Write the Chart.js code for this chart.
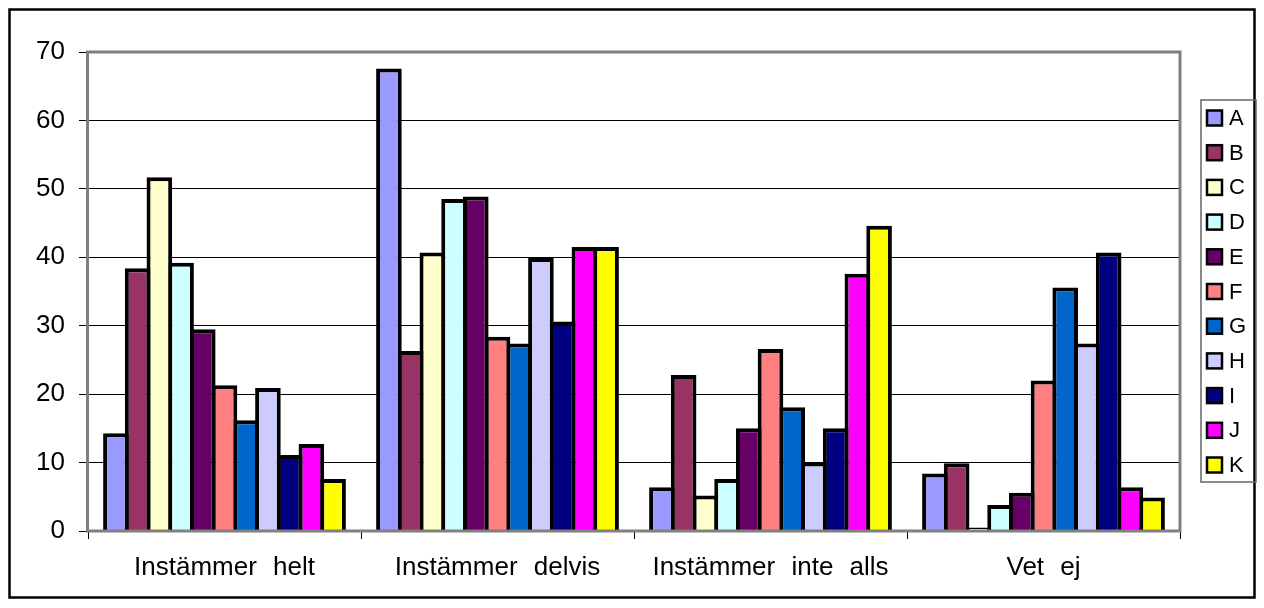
<!DOCTYPE html>
<html>
<head>
<meta charset="utf-8">
<script src="https://cdn.jsdelivr.net/npm/chart.js@4"></script>
<style>
  html, body { margin: 0; padding: 0; background: #fff; }
  #wrap { width: 1264px; height: 608px; }
</style>
</head>
<body>
<div id="wrap"><canvas id="c" width="1264" height="608"></canvas></div>
<script>
const categories = ['Instämmer helt', 'Instämmer delvis', 'Instämmer inte alls', 'Vet ej'];
const seriesLabels = ['A', 'B', 'C', 'D', 'E', 'F', 'G', 'H', 'I', 'J', 'K'];
const seriesColors = ['#9999FF', '#993366', '#FFFFCC', '#CCFFFF', '#660066', '#FF8080', '#0066CC', '#CCCCFF', '#000080', '#FF00FF', '#FFFF00'];
const yTicks = [0, 10, 20, 30, 40, 50, 60, 70];

const valuesA = [14.3, 67.6, 6.4, 8.4];
const valuesB = [38.4, 26.3, 22.8, 9.9];
const valuesC = [51.7, 40.7, 5.2, 0.5];
const valuesD = [39.2, 48.5, 7.6, 3.8];
const valuesE = [29.5, 48.9, 15.0, 5.6];
const valuesF = [21.3, 28.4, 26.6, 22.0];
const valuesG = [16.2, 27.4, 18.1, 35.6];
const valuesH = [20.9, 39.9, 10.0, 27.4];
const valuesI = [11.1, 30.6, 15.0, 40.7];
const valuesJ = [12.7, 41.5, 37.6, 6.4];
const valuesK = [7.6, 41.5, 44.6, 4.9];
const seriesValues = [valuesA, valuesB, valuesC, valuesD, valuesE, valuesF, valuesG, valuesH, valuesI, valuesJ, valuesK];

const FONT = "'Liberation Sans', Arial, sans-serif";

const datasets = seriesLabels.map((lab, i) => ({
  label: lab,
  data: seriesValues[i],
  backgroundColor: seriesColors[i],
  borderColor: '#000',
  borderWidth: 4,
  borderSkipped: 'start',
  categoryPercentage: 0.875,
  barPercentage: 1.18
}));

const framePlugin = {
  id: 'frame',
  beforeDraw(chart) {
    const ctx = chart.ctx;
    ctx.save();
    ctx.fillStyle = '#fff';
    ctx.fillRect(0, 0, chart.width, chart.height);
    ctx.restore();
    try { ctx.wordSpacing = '9px'; } catch (e) {}
  },
  afterDatasetsDraw(chart) {
    const ctx = chart.ctx;
    const a = chart.chartArea;
    ctx.save();
    ctx.strokeStyle = '#808080';
    ctx.lineWidth = 3;
    ctx.strokeRect(a.left - 0.5, a.top, a.right - a.left + 0.5, a.bottom - a.top);
    ctx.restore();
  },
  afterDraw(chart) {
    const ctx = chart.ctx;
    ctx.save();
    ctx.wordSpacing = '0px';
    ctx.strokeStyle = '#000';
    ctx.lineWidth = 2.5;
    ctx.strokeRect(9.5, 9.5, 1245, 588);
    const lx = 1201, ly = 100, lw = 55, lh = 382;
    ctx.strokeStyle = '#666';
    ctx.lineWidth = 1.5;
    ctx.strokeRect(lx, ly, lw, lh);
    ctx.font = '22px ' + FONT;
    ctx.textBaseline = 'middle';
    ctx.textAlign = 'left';
    chart.data.datasets.forEach((ds, i) => {
      const cy = 118 + i * 34.7;
      ctx.fillStyle = ds.backgroundColor;
      ctx.fillRect(1207, cy - 7.5, 15, 15);
      ctx.strokeStyle = '#000';
      ctx.lineWidth = 2.5;
      ctx.strokeRect(1207, cy - 7.5, 15, 15);
      ctx.fillStyle = '#000';
      ctx.fillText(ds.label, 1229, cy + 1);
    });
    ctx.restore();
  }
};

new Chart(document.getElementById('c'), {
  type: 'bar',
  data: { labels: categories, datasets },
  options: {
    responsive: false,
    animation: false,
    devicePixelRatio: 1,
    layout: { padding: { left: 0, top: 52, right: 84, bottom: 0 } },
    plugins: { legend: { display: false }, tooltip: { enabled: false } },
    scales: {
      x: {
        offset: true,
        grid: { offset: true, drawOnChartArea: false, color: '#000', tickLength: 8, lineWidth: 1 },
        border: { display: false },
        ticks: { color: '#000', font: { family: FONT, size: 26 }, padding: 13, maxRotation: 0, autoSkip: false },
        afterFit(scale) { scale.height = 77; }
      },
      y: {
        min: 0,
        max: 70,
        afterBuildTicks(scale) { scale.ticks = yTicks.map(v => ({ value: v })); },
        grid: { color: '#000', tickLength: 9, lineWidth: 1 },
        border: { display: false },
        ticks: { color: '#000', font: { family: FONT, size: 26 }, padding: 14 },
        afterFit(scale) { scale.width = 88; }
      }
    }
  },
  plugins: [framePlugin]
});
</script>
</body>
</html>
